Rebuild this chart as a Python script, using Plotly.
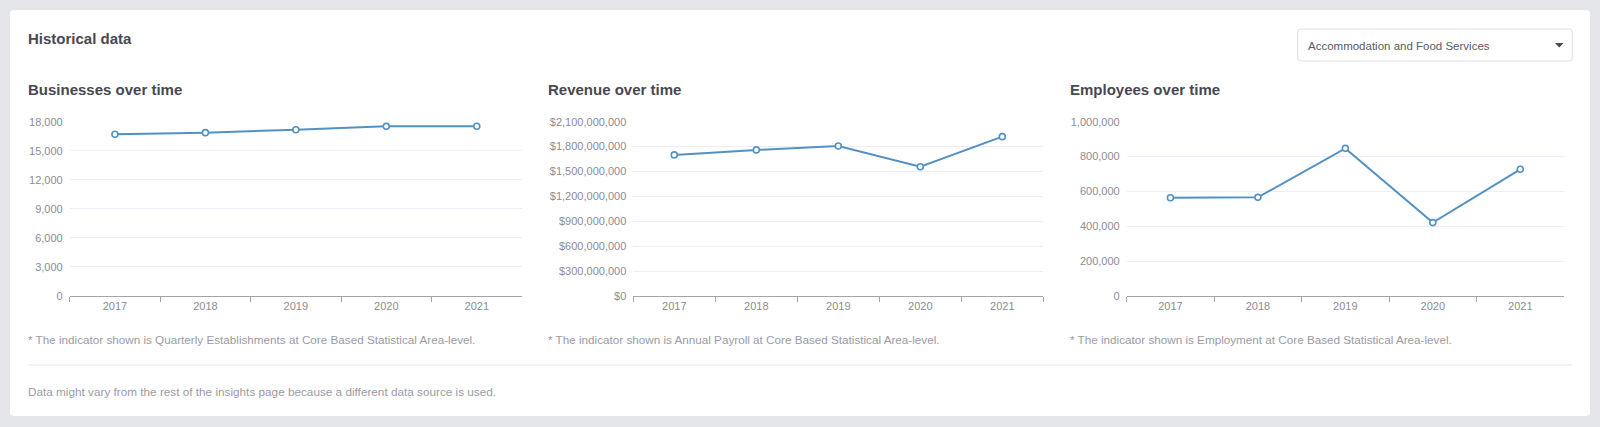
import plotly.graph_objects as go

W, H = 1600, 427

# ---- data ----
years = ["2017", "2018", "2019", "2020", "2021"]
businesses = [16700, 16870, 17170, 17520, 17530]
revenue = [1.700e9, 1.760e9, 1.808e9, 1.558e9, 1.920e9]
employees = [564000, 566000, 847000, 421000, 727000]

page_title = "Historical data"
dropdown_label = "Accommodation and Food Services"
chart_titles = ["Businesses over time", "Revenue over time", "Employees over time"]
footnotes = [
    "* The indicator shown is Quarterly Establishments at Core Based Statistical Area-level.",
    "* The indicator shown is Annual Payroll at Core Based Statistical Area-level.",
    "* The indicator shown is Employment at Core Based Statistical Area-level.",
]
bottom_note = "Data might vary from the rest of the insights page because a different data source is used."

y_max = [18000, 2.1e9, 1.0e6]
y_step = [3000, 3.0e8, 2.0e5]
y_prefix = ["", "$", ""]
series = [businesses, revenue, employees]

# ---- style ----
FONT = "Liberation Sans, Arial, sans-serif"
BG = "#e4e6e9"
TITLE_C = "#484852"
TICK_C = "#8b8c96"
NOTE_C = "#9a9ba6"
LINE_C = "#5491c3"
GRID_C = "#eceef5"
AXIS_C = "#a3a5ac"


def px(x):
    return x / W


def py(y):
    return 1 - y / H


def rounded_rect(x0, y0, x1, y1, r):
    """SVG path (paper coords) for a rectangle with rounded corners, given pixel box."""
    pts = [
        f"M {px(x0 + r)} {py(y0)}",
        f"L {px(x1 - r)} {py(y0)}",
        f"Q {px(x1)} {py(y0)} {px(x1)} {py(y0 + r)}",
        f"L {px(x1)} {py(y1 - r)}",
        f"Q {px(x1)} {py(y1)} {px(x1 - r)} {py(y1)}",
        f"L {px(x0 + r)} {py(y1)}",
        f"Q {px(x0)} {py(y1)} {px(x0)} {py(y1 - r)}",
        f"L {px(x0)} {py(y0 + r)}",
        f"Q {px(x0)} {py(y0)} {px(x0 + r)} {py(y0)}",
        "Z",
    ]
    return " ".join(pts)


x_domains = [(69.7, 522.0), (633.3, 1043.3), (1126.7, 1564.0)]
col_left = [28.7, 549.0, 1070.7]
y_top, y_bot = 121.7, 296.0
TXT_PAD = 3.0

fig = go.Figure()
layout = dict(
    width=W, height=H, autosize=False,
    margin=dict(l=0, r=0, t=0, b=0, pad=0, autoexpand=False),
    paper_bgcolor=BG, plot_bgcolor="rgba(0,0,0,0)",
    showlegend=False,
    font=dict(family=FONT, color=TICK_C, size=11),
)

for i in range(3):
    sfx = "" if i == 0 else str(i + 1)
    fig.add_trace(go.Scatter(
        x=years, y=series[i], mode="lines+markers",
        xaxis="x" + sfx, yaxis="y" + sfx,
        line=dict(color=LINE_C, width=2),
        marker=dict(symbol="circle", size=6, color="white",
                    line=dict(color=LINE_C, width=1.6)),
        cliponaxis=False,
        hoverinfo="x+y",
    ))
    layout["xaxis" + sfx] = dict(
        domain=[px(x_domains[i][0]), px(x_domains[i][1])],
        anchor="y" + sfx, type="category", range=[-0.5, 4.5],
        tickson="boundaries", ticks="outside", ticklen=5, tickcolor=AXIS_C,
        showline=True, linecolor=AXIS_C, linewidth=1,
        showgrid=False, zeroline=False, automargin=False,
        tickfont=dict(family=FONT, size=11, color=TICK_C),
        fixedrange=True,
    )
    layout["yaxis" + sfx] = dict(
        domain=[py(y_bot), py(y_top)],
        anchor="x" + sfx, range=[0, y_max[i]],
        tick0=0, dtick=y_step[i], tickformat=",d", tickprefix=y_prefix[i],
        showgrid=True, gridcolor=GRID_C, gridwidth=1,
        showline=False, zeroline=False, ticks="", automargin=False,
        ticklabelstandoff=6,
        tickfont=dict(family=FONT, size=11, color=TICK_C),
        fixedrange=True,
    )

shapes = [
    # white card
    dict(type="path", xref="paper", yref="paper", layer="below",
         path=rounded_rect(10, 10, 1590, 416, 4),
         fillcolor="white", line=dict(width=0)),
    # dropdown box
    dict(type="path", xref="paper", yref="paper", layer="above",
         path=rounded_rect(1297.7, 29, 1572.3, 61, 3),
         fillcolor="white", line=dict(color="#dcdee3", width=1)),
    # dropdown arrow
    dict(type="path", xref="paper", yref="paper", layer="above",
         path=f"M {px(1555)} {py(43)} L {px(1563.5)} {py(43)} L {px(1559.25)} {py(47.5)} Z",
         fillcolor="#4a4a52", line=dict(width=0)),
    # divider
    dict(type="line", xref="paper", yref="paper", layer="below",
         x0=px(28.7), x1=px(1572.3), y0=py(365), y1=py(365),
         line=dict(color="#e3e5e9", width=1)),
]

annotations = [
    dict(text=f"<b>{page_title}</b>", x=px(col_left[0] - TXT_PAD), y=py(38.5),
         xref="paper", yref="paper", xanchor="left", yanchor="middle", showarrow=False,
         font=dict(family=FONT, size=15, color=TITLE_C)),
    dict(text=dropdown_label, x=px(1306.3), y=py(45.5), xref="paper", yref="paper",
         xanchor="left", yanchor="middle", showarrow=False,
         font=dict(family=FONT, size=11.5, color="#5a5b64")),
    dict(text=bottom_note, x=px(col_left[0] - TXT_PAD), y=py(391.7), xref="paper", yref="paper",
         xanchor="left", yanchor="middle", showarrow=False,
         font=dict(family=FONT, size=11.75, color=NOTE_C)),
]
for i in range(3):
    annotations.append(dict(
        text=f"<b>{chart_titles[i]}</b>", x=px(col_left[i] - TXT_PAD), y=py(89.3),
        xref="paper", yref="paper", xanchor="left", yanchor="middle", showarrow=False,
        font=dict(family=FONT, size=15, color=TITLE_C)))
    annotations.append(dict(
        text=footnotes[i], x=px(col_left[i] - TXT_PAD), y=py(339.3),
        xref="paper", yref="paper", xanchor="left", yanchor="middle", showarrow=False,
        font=dict(family=FONT, size=11.7, color=NOTE_C)))

layout["shapes"] = shapes
layout["annotations"] = annotations
fig.update_layout(**layout)

page_css = (
    "document.body.style.margin='0';"
    "document.body.style.padding='0';"
    "document.body.style.overflow='hidden';"
    f"document.body.style.background='{BG}';"
)
fig.write_html("out.html", config={"displayModeBar": False}, post_script=page_css)
